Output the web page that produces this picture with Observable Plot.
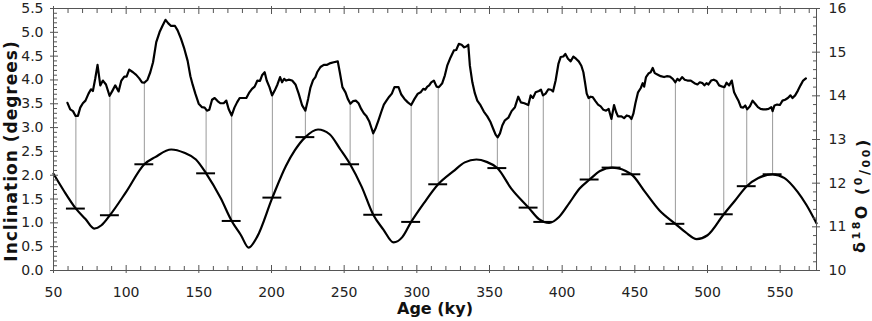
<!DOCTYPE html>
<html><head><meta charset="utf-8">
<script src="https://cdn.jsdelivr.net/npm/d3@7"></script>
<script src="https://cdn.jsdelivr.net/npm/@observablehq/plot@0.6"></script>
<style>body{margin:0;background:#fff}#chart{width:872px;height:321px}</style>
</head><body><div id="chart"></div>
<script>
// δ18O record (per mil)
const d18Age = [59.6,61.5,63.4,65.2,66.8,68.4,70.2,72.0,74.1,75.8,77.1,78.7,80.3,82.2,84.0,86.1,88.6,90.6,92.5,94.8,96.6,98.7,100.3,102.1,104.7,106.9,109.0,110.9,112.5,114.7,116.6,118.5,120.7,123.0,125.1,127.1,129.0,130.9,133.6,135.4,137.7,140.0,142.3,144.2,145.8,147.6,149.9,152.2,154.0,155.6,157.2,159.1,160.9,162.9,164.8,167.1,168.9,170.5,172.6,174.5,176.3,178.1,180.2,182.7,184.8,186.6,188.4,190.3,192.1,193.5,195.3,196.7,198.6,200.4,202.2,204.1,205.9,207.3,208.7,210.1,211.8,214.2,216.5,218.7,221.1,223.3,225.2,226.8,228.6,230.2,231.4,233.7,236.0,238.3,240.6,242.8,245.6,247.0,248.8,250.9,252.5,254.3,256.2,258.0,259.9,261.7,263.5,265.4,267.2,268.6,270.0,271.8,273.6,275.5,277.3,279.1,281.0,282.8,284.6,287.4,289.3,291.5,293.8,296.1,298.4,300.7,302.6,304.4,305.8,307.2,308.5,309.9,311.7,313.6,315.2,317.5,319.3,320.9,323.2,325.5,327.1,328.9,330.8,332.6,334.0,335.4,336.5,338.2,339.9,341.6,343.9,346.1,348.5,350.7,352.6,354.2,355.6,357.2,358.8,360.6,363.0,365.2,367.5,369.8,371.6,374.0,376.7,378.3,379.9,381.7,384.0,385.4,386.8,388.6,390.5,392.3,393.7,395.5,397.4,399.0,400.8,402.2,404.0,405.9,407.7,409.5,411.4,413.2,414.6,415.7,416.9,418.2,419.6,421.0,422.9,424.7,426.5,428.4,430.2,432.0,433.9,435.7,437.1,438.4,440.8,442.6,444.4,446.3,447.7,449.0,450.4,452.2,454.1,455.4,456.4,457.7,459.6,460.9,462.3,463.7,465.5,467.8,470.1,472.0,474.2,476.1,477.9,479.3,480.7,482.5,484.3,486.2,488.5,491.0,493.1,494.7,496.6,497.9,499.3,500.7,502.5,504.3,506.2,508.0,510.3,511.7,513.1,514.9,516.7,518.3,520.0,521.4,523.0,524.6,526.0,527.3,529.2,531.0,532.8,534.7,536.5,538.3,540.2,542.0,543.9,544.8,546.1,547.9,549.8,551.6,553.4,555.3,557.1,558.5,560.3,562.2,564.0,565.8,567.7];
const d18Val = [13.84,13.69,13.65,13.54,13.54,13.73,13.83,13.89,14.05,14.15,14.11,14.39,14.71,14.24,14.35,14.26,14.00,14.12,14.24,14.10,14.34,14.44,14.44,14.60,14.54,14.48,14.40,14.31,14.30,14.37,14.54,14.77,15.23,15.46,15.61,15.74,15.66,15.60,15.60,15.50,15.31,15.08,14.80,14.45,14.25,14.05,13.82,13.74,13.73,13.66,13.68,13.91,13.95,13.88,13.83,13.83,13.89,13.70,13.55,13.73,13.85,13.95,13.95,13.95,14.08,14.16,14.21,14.35,14.34,14.47,14.54,14.35,14.20,14.01,14.12,14.26,14.43,14.31,14.39,14.35,14.37,14.35,14.26,14.05,13.78,13.66,13.93,14.19,14.36,14.43,14.54,14.66,14.71,14.71,14.75,14.77,14.79,14.54,14.20,14.08,13.93,13.82,13.88,13.89,13.83,13.70,13.60,13.53,13.42,13.28,13.14,13.27,13.44,13.63,13.80,13.89,13.98,14.05,14.20,14.20,14.03,13.93,13.85,13.79,13.93,14.05,14.08,14.16,14.14,14.21,14.24,14.31,14.35,14.21,14.20,14.29,14.47,14.69,14.88,15.04,15.05,15.19,15.17,15.11,15.13,15.17,14.69,14.31,14.06,13.89,13.78,13.64,13.53,13.40,13.24,13.11,13.05,13.14,13.32,13.44,13.50,13.65,13.74,13.98,13.85,13.83,13.79,14.01,13.95,14.08,14.11,14.14,14.01,14.05,14.15,14.14,14.10,14.35,14.73,14.89,14.90,14.96,14.85,14.79,14.90,14.85,14.79,14.69,14.54,14.31,14.05,13.95,13.98,13.97,13.88,13.80,13.76,13.68,13.66,13.70,13.47,13.79,13.63,13.53,13.53,13.49,13.55,13.53,13.47,13.59,13.83,14.08,14.18,14.29,14.21,14.43,14.52,14.54,14.64,14.52,14.49,14.45,14.43,14.45,14.44,14.39,14.31,14.39,14.35,14.43,14.37,14.35,14.35,14.29,14.26,14.31,14.29,14.24,14.29,14.26,14.35,14.37,14.34,14.24,14.21,14.20,14.30,14.24,14.35,14.08,13.97,13.88,13.74,13.73,13.78,13.69,13.76,13.89,13.82,13.74,13.70,13.69,13.69,13.70,13.74,13.65,13.78,13.80,13.79,13.89,13.91,13.95,14.01,13.95,14.01,14.12,14.24,14.35,14.40];

// Orbital inclination (degrees)
const incAge = [50,57,65.4,72,78,83,88.8,100,112.5,120,131,140,148,155,165,172.6,179,184.3,190,200.6,210,216,223.3,232,240,247.4,254.1,262,270,277,284,290,296.1,305,314.7,325,333,341,348,355.4,365,376.9,384,391,398,405,412,418.9,426,434.5,447.6,457,467,477.9,485,492.6,500,511.2,519,527,535,544.8,553,562,568,575];
const incVal = [2.03,1.68,1.30,1.08,0.88,0.95,1.16,1.65,2.23,2.38,2.54,2.47,2.33,2.04,1.52,1.04,0.74,0.48,0.70,1.53,2.20,2.52,2.80,2.96,2.86,2.54,2.23,1.76,1.17,0.86,0.59,0.70,1.02,1.42,1.81,2.08,2.27,2.33,2.28,2.15,1.72,1.32,1.08,1.00,1.13,1.42,1.72,1.91,2.09,2.16,2.02,1.65,1.26,0.98,0.80,0.66,0.74,1.18,1.47,1.77,1.94,2.02,1.94,1.65,1.38,0.99];

// Tie points
const tieAge = [65.4,88.8,112.5,155.0,172.6,200.6,223.3,254.1,270.0,296.1,314.7,355.4,376.9,387.0,418.9,434.0,447.6,477.9,511.2,527.0,544.8];
const tieInc = [1.30,1.16,2.23,2.04,1.04,1.53,2.80,2.23,1.17,1.02,1.81,2.15,1.32,1.02,1.91,2.16,2.02,0.98,1.18,1.77,2.02];
const tieD18 = [13.54,14.00,14.30,13.67,13.55,14.01,13.66,13.82,13.14,13.79,14.20,13.05,13.79,14.01,13.96,13.47,13.47,14.31,14.20,13.69,13.65];

// Axis ticks
const xTicks = [50,100,150,200,250,300,350,400,450,500,550];
const leftTicks = [0,0.5,1,1.5,2,2.5,3,3.5,4,4.5,5,5.5];
const rightTicks = [10,11,12,13,14,15,16];

const xMinor = d3.range(60, 576, 10).filter(v => v % 50 !== 0);
const leftMinor = d3.range(1, 55).filter(i => i % 5 !== 0).map(i => i / 10);
const rightMinor = d3.range(50, 80).filter(i => i % 5 !== 0).map(i => i / 5);

// map δ18O (10–16) onto the inclination axis (0–5.5)
const R0 = 10, R1 = 16, L1 = 5.5;
const toLeft = v => (v - R0) * L1 / (R1 - R0);
const fromLeft = v => v * (R1 - R0) / L1 + R0;

const d18 = d18Age.map((a, i) => ({age: a, v: d18Val[i]}));
const inc = incAge.map((a, i) => ({age: a, v: incVal[i]}));
const ties = tieAge.map((a, i) => ({age: a, inc: tieInc[i], d18: tieD18[i]}));

const AX = "#555";
const plot = Plot.plot({
  width: 872, height: 321,
  marginLeft: 53, marginRight: 56, marginTop: 8, marginBottom: 51,
  x: {domain: [50, 575]},
  y: {domain: [0, 5.5]},
  style: {fontFamily: "DejaVu Sans", fontSize: "14px", color: "#222", background: "white"},
  marks: [
    Plot.ruleX(ties, {x: "age", y1: "inc", y2: d => toLeft(d.d18), stroke: "#999", strokeWidth: 1}),
    Plot.line(inc, {x: "age", y: "v", curve: "monotone-x", stroke: "#000", strokeWidth: 2.2}),
    Plot.line(d18, {x: "age", y: d => toLeft(d.v), stroke: "#000", strokeWidth: 2.2, strokeLinejoin: "round"}),
    Plot.ruleY(ties, {y: "inc", x1: d => d.age - 6.5, x2: d => d.age + 6.5, stroke: "#000", strokeWidth: 2}),
    Plot.frame({stroke: AX}),
    Plot.axisX(xTicks, {anchor: "bottom", tickSize: 8, dy: -5, fill: "none", stroke: AX, label: null}),
    Plot.axisX(xMinor, {anchor: "bottom", tickSize: 4, dy: -4, fill: "none", stroke: AX, label: null}),
    Plot.axisX(xTicks, {anchor: "bottom", tickSize: 0, tickPadding: 17, label: null, fill: "#222"}),
    Plot.axisX(xTicks, {anchor: "top", tickSize: 8, dy: 5, fill: "none", stroke: AX, label: null}),
    Plot.axisX(xMinor, {anchor: "top", tickSize: 4, dy: 4, fill: "none", stroke: AX, label: null}),
    Plot.axisY(leftTicks, {anchor: "left", tickSize: 8, dx: 5, fill: "none", stroke: AX, label: null}),
    Plot.axisY(leftMinor, {anchor: "left", tickSize: 4, dx: 4, fill: "none", stroke: AX, label: null}),
    Plot.axisY(leftTicks, {anchor: "left", tickSize: 0, tickPadding: 10, tickFormat: d3.format(".1f"), label: null, fill: "#222"}),
    Plot.axisY(rightTicks.map(toLeft), {anchor: "right", tickSize: 8, dx: -5, fill: "none", stroke: AX, label: null}),
    Plot.axisY(rightMinor.map(toLeft), {anchor: "right", tickSize: 4, dx: -4, fill: "none", stroke: AX, label: null}),
    Plot.axisY(rightTicks.map(toLeft), {anchor: "right", tickSize: 0, tickPadding: 12, tickFormat: d => String(Math.round(fromLeft(d))), label: null, fill: "#222"})
  ]
});

const svg = d3.select(plot);
svg.append("text")
  .attr("transform", "translate(16.5,151) rotate(-90)")
  .attr("text-anchor", "middle")
  .style("font-family", "DejaVu Sans").style("font-weight", "bold").style("font-size", "17px")
  .style("letter-spacing", "1px").attr("fill", "#111")
  .text("Inclination (degrees)");
svg.append("text")
  .attr("x", 435).attr("y", 314)
  .attr("text-anchor", "middle")
  .style("font-family", "DejaVu Sans").style("font-weight", "bold").style("font-size", "16px")
  .attr("fill", "#111")
  .text("Age (ky)");
const rt = svg.append("text")
  .attr("transform", "translate(865,253) rotate(-90)")
  .attr("text-anchor", "start")
  .style("font-family", "DejaVu Sans").style("font-weight", "bold").style("font-size", "16px")
  .style("letter-spacing", "2.5px").attr("fill", "#111");
rt.append("tspan").text("δ");
rt.append("tspan").attr("dy", "-0.45em").style("font-size", "11px").text("18");
rt.append("tspan").attr("dy", "0.45em").text("O (");
rt.append("tspan").attr("dy", "-0.45em").style("font-size", "11px").text("0");
rt.append("tspan").attr("dy", "0.45em").style("font-size", "14px").text("/");
rt.append("tspan").attr("dy", "0.1em").style("font-size", "11px").text("00");
rt.append("tspan").attr("dy", "-0.1em").text(")");

document.getElementById("chart").appendChild(plot);
</script>
</body></html>
